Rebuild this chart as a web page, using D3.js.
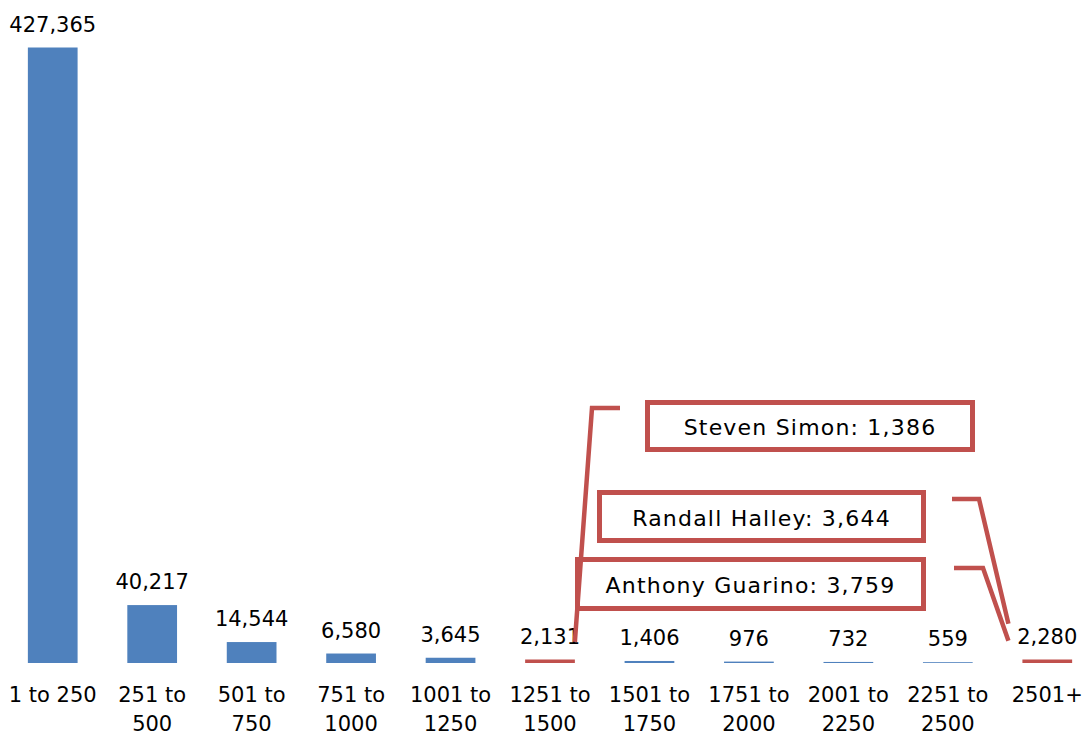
<!DOCTYPE html>
<html>
<head>
<meta charset="utf-8">
<script src="https://cdn.jsdelivr.net/npm/d3@7"></script>
<style>
  html, body { margin: 0; padding: 0; background: #fff; }
  svg { display: block; }
  text { font-family: "Century Gothic", "DejaVu Sans", sans-serif; fill: #000; }
</style>
</head>
<body>
<svg id="chart" width="1086" height="736"></svg>
<script>
// ---- data ----
const categories = ["1 to 250", "251 to 500", "501 to 750", "751 to 1000", "1001 to 1250",
  "1251 to 1500", "1501 to 1750", "1751 to 2000", "2001 to 2250", "2251 to 2500", "2501+"];
const tickLines = [["1 to 250"], ["251 to", "500"], ["501 to", "750"], ["751 to", "1000"],
  ["1001 to", "1250"], ["1251 to", "1500"], ["1501 to", "1750"], ["1751 to", "2000"],
  ["2001 to", "2250"], ["2251 to", "2500"], ["2501+"]];
const values = [427365, 40217, 14544, 6580, 3645, 2131, 1406, 976, 732, 559, 2280];
const highlighted = ["1251 to 1500", "2501+"];
const calloutTexts = ["Steven Simon: 1,386", "Randall Halley: 3,644", "Anthony Guarino: 3,759"];
const calloutTargets = ["1251 to 1500", "2501+", "2501+"];

// ---- layout ----
const blue = "#4F81BD", red = "#C0504D";
const svg = d3.select("#chart");
const x = d3.scaleBand().domain(categories).range([3, 1097]).paddingInner(0.5).paddingOuter(0.25);
const y = d3.scaleLinear().domain([0, 427365]).range([663, 47.5]);
const fmt = d3.format(",");

// bars
svg.append("g").selectAll("rect").data(categories).join("rect")
  .attr("x", d => x(d))
  .attr("width", x.bandwidth())
  .attr("y", (d, i) => highlighted.includes(d) ? Math.min(y(values[i]), 659.5) : y(values[i]))
  .attr("height", (d, i) => highlighted.includes(d) ? Math.max(y(0) - y(values[i]), 3.5) : y(0) - y(values[i]))
  .attr("fill", d => highlighted.includes(d) ? red : blue);

// value labels
svg.append("g").selectAll("text").data(categories).join("text")
  .attr("x", d => x(d) + x.bandwidth() / 2)
  .attr("y", (d, i) => y(values[i]) - 16)
  .attr("text-anchor", "middle")
  .style("font-size", "21px")
  .text((d, i) => fmt(values[i]));

// category axis labels
const ax = svg.append("g");
categories.forEach((c, i) => {
  const t = ax.append("text")
    .attr("x", x(c) + x.bandwidth() / 2)
    .attr("y", 702)
    .attr("text-anchor", "middle")
    .style("font-size", "21px");
  tickLines[i].forEach((ln, j) => {
    t.append("tspan").attr("x", x(c) + x.bandwidth() / 2).attr("dy", j === 0 ? 0 : 29).text(ln);
  });
});

// callouts
const boxes = [
  {x0: 645, y0: 400, x1: 975, y1: 452, lead: [[620, 408], [592, 408]], end: "right", dy: -18},
  {x0: 597, y0: 490, x1: 926, y1: 543, lead: [[952, 499], [979, 499]], end: "left", dy: -36},
  {x0: 575, y0: 557, x1: 926, y1: 611, lead: [[954, 568], [983, 568]], end: "left", dy: -19}
];
const cg = svg.append("g");
calloutTexts.forEach((txt, i) => {
  const b = boxes[i];
  const c = calloutTargets[i];
  const vi = categories.indexOf(c);
  const ex = b.end === "right" ? x(c) + x.bandwidth() : x(c) - 14;
  const ey = y(values[vi]) + b.dy;
  const pts = b.lead.concat([[ex, ey]]);
  cg.append("path")
    .attr("d", d3.line()(pts))
    .attr("fill", "none").attr("stroke", red).attr("stroke-width", 4.5)
    .attr("stroke-linejoin", "miter");
});
calloutTexts.forEach((txt, i) => {
  const b = boxes[i];
  cg.append("rect")
    .attr("x", b.x0 + 2.5).attr("y", b.y0 + 2.5)
    .attr("width", b.x1 - b.x0 - 5).attr("height", b.y1 - b.y0 - 5)
    .attr("fill", "none").attr("stroke", red).attr("stroke-width", 5);
  cg.append("text")
    .attr("x", (b.x0 + b.x1) / 2)
    .attr("y", (b.y0 + b.y1) / 2 + 9)
    .attr("text-anchor", "middle")
    .style("font-size", "22px")
    .style("letter-spacing", "1.2px")
    .text(txt);
});
</script>
</body>
</html>
